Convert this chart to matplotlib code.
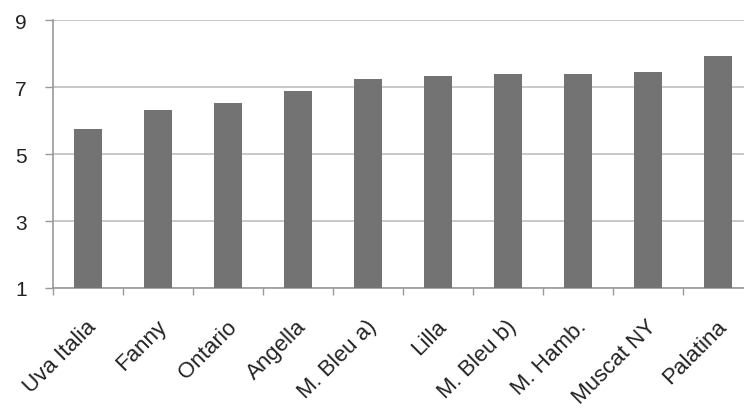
"""Bar chart: grape varieties, sorted by value"""

import numpy as np
import matplotlib.pyplot as plt

varieties = ["Uva Italia", "Fanny", "Ontario", "Angella", "M. Bleu a)",
             "Lilla", "M. Bleu b)", "M. Hamb.", "Muscat NY", "Palatina"]
values = [5.75, 6.31, 6.52, 6.88, 7.24, 7.33, 7.39, 7.39, 7.45, 7.93]
y_ticks = [1, 3, 5, 7, 9]

plt.rcParams["font.family"] = ["Liberation Sans", "DejaVu Sans"]

fig = plt.figure(figsize=(7.44, 4.14), dpi=100)
ax = fig.add_axes([0.0712, 0.302, 0.9288, 0.647])

x = np.arange(len(varieties))
ax.bar(x, values, width=0.4, bottom=0, color="#737373", zorder=3)

ax.set_ylim(1, 9)
ax.set_xlim(-0.5, len(varieties) - 0.5 - 9 / 70)
ax.set_yticks(y_ticks)
ax.yaxis.grid(True, color="#c8c8c8", linewidth=1.4, zorder=0)

ax.set_xticks(x - 0.03)
ax.set_xticklabels(varieties, rotation=45, ha="right", rotation_mode="anchor",
                   fontsize=16, color="#222222")
ax.set_xticks(np.arange(len(varieties)) - 0.5, minor=True)
ax.tick_params(axis="x", which="major", length=0, pad=20)
ax.tick_params(axis="x", which="minor", length=5, color="#999999", width=1)
ax.tick_params(axis="y", length=6, color="#999999", width=1, labelsize=15,
               pad=13, labelcolor="#222222")

for side in ["top", "right"]:
    ax.spines[side].set_visible(False)
for side in ["left", "bottom"]:
    ax.spines[side].set_color("#999999")
    ax.spines[side].set_linewidth(1.2)

plt.savefig("out.png", dpi=100)
plt.close()
